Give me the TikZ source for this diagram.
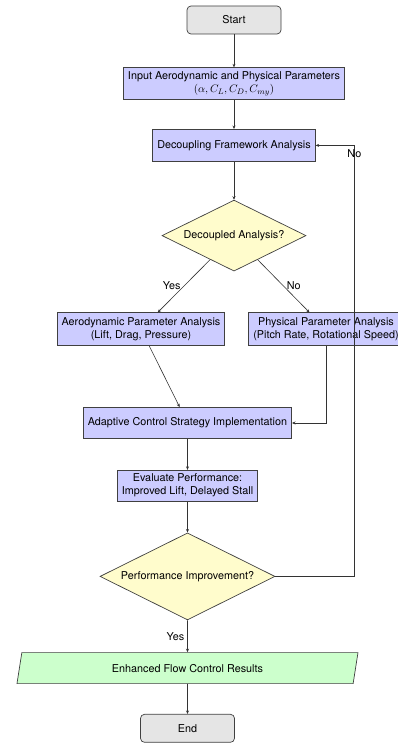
\documentclass[tikz,border=0pt]{standalone}
\usepackage{fontspec}
\setmainfont{TeX Gyre Heros}
\usetikzlibrary{arrows.meta, positioning, shapes.geometric}

\begin{document}
\begin{tikzpicture}[
  term/.style={rectangle, draw=black!75, line width=0.7pt, fill=gray!20, rounded corners=4pt,
               minimum width=94pt, minimum height=28pt, align=center},
  proc/.style={rectangle, draw=black!75, line width=0.7pt, fill=blue!20, inner xsep=4.5pt,
               inner ysep=2pt, minimum height=32pt, align=center},
  dec/.style={diamond, aspect=2, draw=black!75, line width=0.7pt, fill=yellow!20, inner sep=0pt, align=center},
  io/.style={trapezium, trapezium left angle=72, trapezium right angle=108, trapezium stretches body,
             draw=black!75, line width=0.7pt, fill=green!20, minimum width=341pt, minimum height=31pt},
  lbl/.style={inner sep=3pt},
  flow/.style={-{Stealth[length=3.5pt, width=3pt]}, draw=black!80, line width=0.6pt},
  font=\fontsize{10.8}{13}\selectfont
]
  \useasboundingbox (0,0) rectangle (398pt,-746pt);

  \node[term] (start) at (234pt,-20pt) {Start};
  \node[proc, below=33pt of start] (input) {Input Aerodynamic and Physical Parameters\\$(\alpha, C_L, C_D, C_{my})$};
  \node[proc, below=29pt of input] (decouple) {Decoupling Framework Analysis};
  \node[dec, minimum width=144pt, minimum height=71pt, below=38pt of decouple] (check) {Decoupled Analysis?};
  \node[proc, minimum height=33pt, below=41pt of check, xshift=-93pt] (aero) {Aerodynamic Parameter Analysis\\(Lift, Drag, Pressure)};
  \node[proc, minimum height=33pt, below=41pt of check, xshift=92pt] (phys) {Physical Parameter Analysis\\(Pitch Rate, Rotational Speed)};
  \node[proc, minimum height=31pt, below=61pt of aero, xshift=46.5pt] (adapt) {Adaptive Control Strategy Implementation};
  \node[proc, minimum height=31pt, below=31pt of adapt] (eval) {Evaluate Performance:\\Improved Lift, Delayed Stall};
  \node[dec, minimum width=175pt, minimum height=87pt, below=31pt of eval] (perf) {Performance Improvement?};
  \node[io, below=32pt of perf] (result) {Enhanced Flow Control Results};
  \node[term, below=30pt of result] (end) {End};

  \draw[flow] (start) -- (input);
  \draw[flow] (input) -- (decouple);
  \draw[flow] (decouple) -- (check);
  \draw[flow] (check) -- node[lbl, midway, left]{Yes} (aero);
  \draw[flow] (check) -- node[lbl, midway, right]{No} (phys);
  \draw[flow] (aero) -- (adapt);
  \draw[flow] (phys) |- (adapt);
  \draw[flow] (adapt) -- (eval);
  \draw[flow] (eval) -- (perf);
  \draw[flow] (perf) -- node[lbl, midway, left]{Yes} (result);
  \draw[flow] (perf.east) -- ++(79pt,0) |- node[lbl, pos=0.49]{No} (decouple.east);
  \draw[flow] (result) -- (end);
\end{tikzpicture}
\end{document}
